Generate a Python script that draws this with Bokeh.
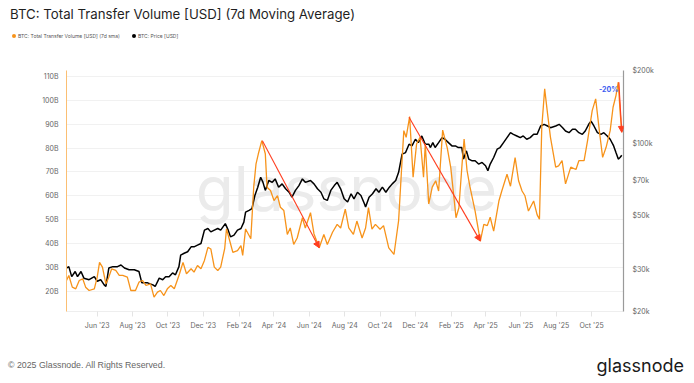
import pandas as pd
from bokeh.plotting import figure
from bokeh.layouts import column
from bokeh.models import (Range1d, LogScale, LogAxis, FixedTicker, Label, Arrow, NormalHead,
                          DatetimeTickFormatter, PrintfTickFormatter, ColumnDataSource, Div)
from bokeh.embed import file_html
from bokeh.resources import INLINE

# ---------------- data ----------------
price_dates = [
    "2023-04-09","2023-04-13","2023-04-18","2023-04-24","2023-04-28","2023-05-04","2023-05-09","2023-05-18",
    "2023-05-27","2023-06-01","2023-06-07","2023-06-13","2023-06-16","2023-06-21","2023-06-28","2023-07-06",
    "2023-07-12","2023-07-18","2023-07-26","2023-08-04","2023-08-12","2023-08-17","2023-08-27","2023-09-05",
    "2023-09-09","2023-09-16","2023-09-22","2023-09-27","2023-10-03","2023-10-09","2023-10-14","2023-10-20",
    "2023-10-23","2023-10-29","2023-11-04","2023-11-10","2023-11-15","2023-11-21","2023-11-27","2023-12-03",
    "2023-12-09","2023-12-14","2023-12-20","2023-12-26","2023-12-31","2024-01-08","2024-01-13","2024-01-17",
    "2024-01-23","2024-01-29","2024-02-04","2024-02-09","2024-02-12","2024-02-18","2024-02-23","2024-02-28",
    "2024-03-04","2024-03-09","2024-03-13","2024-03-17","2024-03-23","2024-03-29","2024-04-03","2024-04-09",
    "2024-04-15","2024-04-21","2024-04-27","2024-05-02","2024-05-08","2024-05-14","2024-05-20","2024-05-25",
    "2024-06-03","2024-06-09","2024-06-15","2024-06-21","2024-06-26","2024-07-02","2024-07-08","2024-07-14",
    "2024-07-19","2024-07-25","2024-07-31","2024-08-06","2024-08-12","2024-08-17","2024-08-23","2024-08-29",
    "2024-09-04","2024-09-06","2024-09-12","2024-09-18","2024-09-24","2024-09-29","2024-10-05","2024-10-11",
    "2024-10-17","2024-10-22","2024-10-28","2024-11-02","2024-11-08","2024-11-14","2024-11-20","2024-11-25",
    "2024-12-01","2024-12-06","2024-12-12","2024-12-18","2024-12-24","2024-12-27","2024-12-31","2025-01-04",
    "2025-01-10","2025-01-16","2025-01-21","2025-01-27","2025-02-02","2025-02-08","2025-02-13","2025-02-19",
    "2025-02-22","2025-02-27","2025-03-03","2025-03-09","2025-03-14","2025-03-20","2025-03-26","2025-04-01",
    "2025-04-05","2025-04-09","2025-04-15","2025-04-21","2025-04-26","2025-05-02","2025-05-08","2025-05-14",
    "2025-05-19","2025-05-25","2025-05-31","2025-06-05","2025-06-11","2025-06-17","2025-06-23","2025-06-29",
    "2025-07-05","2025-07-11","2025-07-17","2025-07-22","2025-07-31","2025-08-06","2025-08-12","2025-08-17",
    "2025-08-23","2025-08-29","2025-09-03","2025-09-09","2025-09-15","2025-09-20","2025-09-26","2025-09-30",
    "2025-10-05","2025-10-11","2025-10-17","2025-10-22","2025-10-28","2025-11-02","2025-11-08","2025-11-12",
    "2025-11-16","2025-11-19","2025-11-22"]
price_k = [
    30.3,30.7,27.9,29.3,27.9,29.3,27.5,27.1,
    27.9,26.7,27.1,25.8,25.4,30.3,30.7,30.7,
    31.2,30.3,29.8,29.8,29.3,26.3,26.3,25.8,
    25.4,27.5,27.1,27.9,27.9,28.9,28.4,30.7,
    34.3,34.9,35.4,37.1,37.1,37.7,38.3,43.5,
    44.2,42.8,43.5,44.2,43.5,46.3,43.5,40.8,
    41.5,43.5,44.2,47.0,51.7,52.6,53.5,60.6,
    65.6,72.1,68.7,63.6,69.9,68.7,71.0,65.6,
    67.7,64.6,62.5,59.6,63.6,66.6,71.0,68.7,
    69.9,67.7,64.6,62.5,58.7,57.8,63.6,66.6,
    68.7,64.6,58.7,56.9,61.6,58.7,62.5,60.6,
    56.0,54.3,59.6,61.6,64.6,62.5,65.6,62.5,
    65.6,67.7,69.9,75.6,90.0,91.3,98.9,97.3,
    103.7,100.4,107.0,98.9,98.9,95.8,100.4,95.8,
    100.4,105.3,103.7,100.4,97.3,97.3,95.8,95.8,
    85.8,92.8,85.8,84.4,84.4,81.8,83.1,80.5,
    76.8,81.8,87.1,94.3,95.8,100.4,105.3,110.4,
    108.7,107.0,105.3,107.0,103.7,105.3,108.7,108.7,
    117.7,119.6,117.7,115.8,117.7,119.6,115.8,112.2,
    110.4,114.0,114.0,110.4,108.7,112.2,119.6,123.3,
    117.7,110.4,108.7,110.4,107.0,103.7,97.3,91.3,
    85.8,87.1,89.0]

vol_dates = [
    "2023-04-09","2023-04-13","2023-04-19","2023-04-25","2023-05-01","2023-05-07","2023-05-12","2023-05-18",
    "2023-05-27","2023-06-01","2023-06-05","2023-06-10","2023-06-16","2023-06-21","2023-06-26","2023-07-03",
    "2023-07-09","2023-07-15","2023-07-23","2023-07-29","2023-08-06","2023-08-12","2023-08-18","2023-08-24",
    "2023-09-01","2023-09-07","2023-09-13","2023-09-18","2023-09-24","2023-09-30","2023-10-06","2023-10-12",
    "2023-10-17","2023-10-21","2023-10-27","2023-11-02","2023-11-10","2023-11-15","2023-11-21","2023-11-27",
    "2023-12-03","2023-12-09","2023-12-14","2023-12-20","2023-12-26","2023-12-31","2024-01-07","2024-01-10",
    "2024-01-17","2024-01-21","2024-01-29","2024-02-04","2024-02-07","2024-02-12","2024-02-21","2024-02-26",
    "2024-03-01","2024-03-05","2024-03-11","2024-03-17","2024-03-20","2024-03-26","2024-04-01","2024-04-07",
    "2024-04-12","2024-04-18","2024-04-24","2024-04-29","2024-05-05","2024-05-11","2024-05-20","2024-05-25",
    "2024-06-03","2024-06-09","2024-06-18","2024-06-26","2024-07-02","2024-07-11","2024-07-19","2024-07-25",
    "2024-08-02","2024-08-08","2024-08-16","2024-08-22","2024-08-31","2024-09-06","2024-09-11","2024-09-17",
    "2024-09-23","2024-10-01","2024-10-07","2024-10-16","2024-10-25","2024-11-02","2024-11-08","2024-11-11",
    "2024-11-15","2024-11-21","2024-11-27","2024-12-03","2024-12-09","2024-12-15","2024-12-18","2024-12-24",
    "2024-12-30","2025-01-05","2025-01-10","2025-01-17","2025-01-25","2025-01-31","2025-02-06","2025-02-09",
    "2025-02-14","2025-02-20","2025-02-23","2025-02-28","2025-03-05","2025-03-14","2025-03-23","2025-03-29",
    "2025-04-04","2025-04-09","2025-04-15","2025-04-24","2025-04-29","2025-05-08","2025-05-14","2025-05-22",
    "2025-05-28","2025-06-03","2025-06-08","2025-06-14","2025-06-23","2025-06-29","2025-07-03","2025-07-07",
    "2025-07-12","2025-07-17","2025-07-22","2025-07-31","2025-08-05","2025-08-11","2025-08-17","2025-08-26",
    "2025-09-04","2025-09-09","2025-09-18","2025-09-24","2025-10-02","2025-10-08","2025-10-15","2025-10-20",
    "2025-10-26","2025-11-02","2025-11-07","2025-11-12","2025-11-16","2025-11-19","2025-11-22"]
vol_b = [
    24.5,26.6,21.7,21.0,24.5,25.2,21.7,20.3,
    21.0,25.9,32.1,30.1,23.1,25.9,29.4,28.7,
    26.6,26.6,25.9,20.3,20.3,23.8,24.5,22.4,
    23.1,17.5,19.6,20.3,18.2,21.0,22.4,21.0,
    24.5,27.3,32.1,27.3,29.4,28.0,30.8,29.4,
    32.9,38.4,37.7,30.1,28.7,30.1,38.0,46.1,
    39.9,36.3,37.0,39.1,35.0,46.1,42.0,63.6,
    73.4,77.6,83.1,77.6,63.6,62.2,58.0,60.1,
    55.2,53.8,43.8,46.5,39.6,42.3,50.8,46.5,
    52.9,44.0,38.2,43.8,39.6,44.7,48.0,46.5,
    54.4,46.5,43.8,49.4,42.3,46.5,55.0,46.0,
    48.0,46.0,47.5,38.2,35.4,49.6,75.0,87.3,
    84.5,93.2,67.8,81.7,84.5,67.8,81.7,56.6,
    63.6,66.3,62.0,87.5,80.0,71.8,58.0,50.8,
    55.0,75.0,83.8,70.7,63.8,53.6,41.0,48.0,
    47.5,51.0,45.2,57.8,62.0,69.0,64.0,76.0,
    66.3,62.0,60.0,53.6,57.8,52.0,50.2,88.7,
    104.8,94.3,84.5,72.0,72.5,74.7,65.0,72.0,
    71.0,74.7,74.7,83.1,95.7,100.6,85.9,76.1,
    80.3,87.3,97.1,102.0,107.6,95.7,86.6]

vol_ticks = [20, 30, 40, 50, 60, 70, 80, 90, 100, 110]
price_ticks = [20000, 30000, 50000, 70000, 100000, 200000]
price_tick_labels = ["$20k", "$30k", "$50k", "$70k", "$100k", "$200k"]
month_ticks = ["2023-06-01","2023-08-01","2023-10-01","2023-12-01","2024-02-01","2024-04-01",
               "2024-06-01","2024-08-01","2024-10-01","2024-12-01","2025-02-01","2025-04-01",
               "2025-06-01","2025-08-01","2025-10-01"]

# drawdown arrows (annotations)
arrow_start_dates = ["2024-03-12", "2024-11-20", "2025-11-17"]
arrow_start_vals = [83.1, 92.9, 107.6]
arrow_end_dates = ["2024-06-18", "2025-03-23", "2025-11-22"]
arrow_end_vals = [38.2, 41.0, 86.6]

title_text = "BTC: Total Transfer Volume [USD] (7d Moving Average)"
legend_texts = ["BTC: Total Transfer Volume [USD] (7d sma)", "BTC: Price [USD]"]
footer_text = "\u00a9 2025 Glassnode. All Rights Reserved."
logo_text = "glassnode"

# ---------------- helpers ----------------
def ms(d):
    return pd.Timestamp(d).value / 1e6

ORANGE = "#f7931a"
RED = "#ff3d1f"
FONT = "Inter"

W = 694
TOP_H, BOT_H = 64, 47
FIG_H = 383 - TOP_H - BOT_H

p = figure(width=W, height=FIG_H, x_axis_type="datetime", output_backend="svg", toolbar_location=None,
           x_range=Range1d(ms("2023-04-09"), ms("2025-11-25")),
           y_range=Range1d(11.5, 112.5),
           min_border_left=66, min_border_right=71, min_border_top=6, min_border_bottom=25,
           background_fill_color="white", border_fill_color="white", margin=0)
p.outline_line_color = None

p.extra_y_ranges = {"price": Range1d(20000, 200000)}
p.extra_y_scales = {"price": LogScale()}

# left axis
ya = p.yaxis[0]
ya.ticker = FixedTicker(ticks=vol_ticks)
ya.formatter = PrintfTickFormatter(format="%dB")
ya.axis_line_color = "#fbbf73"
ya.axis_line_width = 1
ya.major_tick_line_color = None
ya.minor_tick_line_color = None
ya.major_tick_out = 0
ya.major_tick_in = 0
ya.major_label_standoff = 8
ya.major_label_text_font = FONT
ya.major_label_text_font_size = "7px"
ya.major_label_text_color = "#666666"

# right axis
ra = LogAxis(y_range_name="price", ticker=FixedTicker(ticks=price_ticks),
             major_label_overrides={t: l for t, l in zip(price_ticks, price_tick_labels)})
ra.axis_line_color = "#9a9a9a"
ra.axis_line_width = 1.2
ra.major_tick_line_color = None
ra.minor_tick_line_color = None
ra.major_tick_out = 0
ra.major_tick_in = 0
ra.major_label_standoff = 9
ra.major_label_text_font = FONT
ra.major_label_text_font_size = "7px"
ra.major_label_text_color = "#666666"
p.add_layout(ra, "right")

# x axis
xa = p.xaxis[0]
xa.ticker = FixedTicker(ticks=[ms(d) for d in month_ticks])
fmt = "%b '%y"
xa.formatter = DatetimeTickFormatter(months=fmt, days=fmt, years=fmt, hours=fmt, minutes=fmt)
xa.axis_line_color = "#eeeeee"
xa.major_tick_line_color = "#e4e4e4"
xa.major_tick_out = 5
xa.major_tick_in = 0
xa.minor_tick_line_color = None
xa.major_label_standoff = 4
xa.major_label_text_font = FONT
xa.major_label_text_font_size = "7px"
xa.major_label_text_color = "#666666"

p.xgrid.visible = False
p.ygrid.grid_line_color = "#f1f1f1"
p.ygrid.grid_line_width = 1

# watermark
p.add_layout(Label(x=ms("2024-08-04"), y=63, text="glassnode", text_align="center",
                   text_baseline="middle", text_font=FONT, text_font_size="62px",
                   text_color="#ebebeb", level="underlay"))

# series
p.line(x=pd.to_datetime(price_dates), y=[v * 1000 for v in price_k], y_range_name="price",
       line_color="black", line_width=1.5)
p.line(x=pd.to_datetime(vol_dates), y=vol_b, line_color=ORANGE, line_width=1.3)

# arrows
asrc = ColumnDataSource(dict(x0=[ms(d) for d in arrow_start_dates], y0=arrow_start_vals,
                             x1=[ms(d) for d in arrow_end_dates], y1=arrow_end_vals))
p.add_layout(Arrow(end=NormalHead(size=6, fill_color=RED, line_color=RED), source=asrc,
                   x_start="x0", y_start="y0", x_end="x1", y_end="y1",
                   line_color=RED, line_width=1.1))
p.add_layout(Label(x=ms("2025-11-16"), y=104.4, text="-20%", text_align="right", text_baseline="middle",
                   text_font=FONT, text_font_size="7px", text_font_style="bold", text_color="#3b5bf0"))

# ---------------- header / footer ----------------
def span(text, left=None, right=None, top=0, size=10, color="#333", lh=None, extra=""):
    lh = lh or size + 2
    pos = f"left:{left}px;" if left is not None else f"right:{right}px;"
    return (f'<span style="position:absolute;{pos}top:{top}px;font-size:{size}px;line-height:{lh}px;'
            f'color:{color};white-space:nowrap;{extra}">{text}</span>')

def dot(left, top, color):
    return (f'<span style="position:absolute;left:{left}px;top:{top}px;width:4px;height:4px;'
            f'border-radius:50%;background:{color}"></span>')

top_html = (f'<div style="position:relative;width:{W}px;height:{TOP_H}px;font-family:Inter,sans-serif;">'
            + span(title_text, left=10, top=6, size=13.25, color="#1f1f1f", lh=16)
            + dot(12, 34, ORANGE)
            + span(legend_texts[0], left=18, top=33, size=5, color="#555555", lh=6)
            + dot(132, 34, "black")
            + span(legend_texts[1], left=138, top=33, size=5, color="#555555", lh=6)
            + '</div>')
bot_html = (f'<div style="position:relative;width:{W}px;height:{BOT_H}px;">'
            + span(footer_text, left=8, top=23, size=8.8, color="#666666", lh=12,
                   extra="font-family:'Liberation Sans',Arial,sans-serif;")
            + span(logo_text, right=10, top=19, size=18, color="#1a1a1a", lh=22,
                   extra="font-family:Inter,sans-serif;")
            + '</div>')

top_div = Div(text=top_html, width=W, height=TOP_H, margin=0)
bot_div = Div(text=bot_html, width=W, height=BOT_H, margin=0)

layout = column(top_div, p, bot_div, spacing=0, margin=0)
open("out.html", "w").write(file_html(layout, INLINE))
